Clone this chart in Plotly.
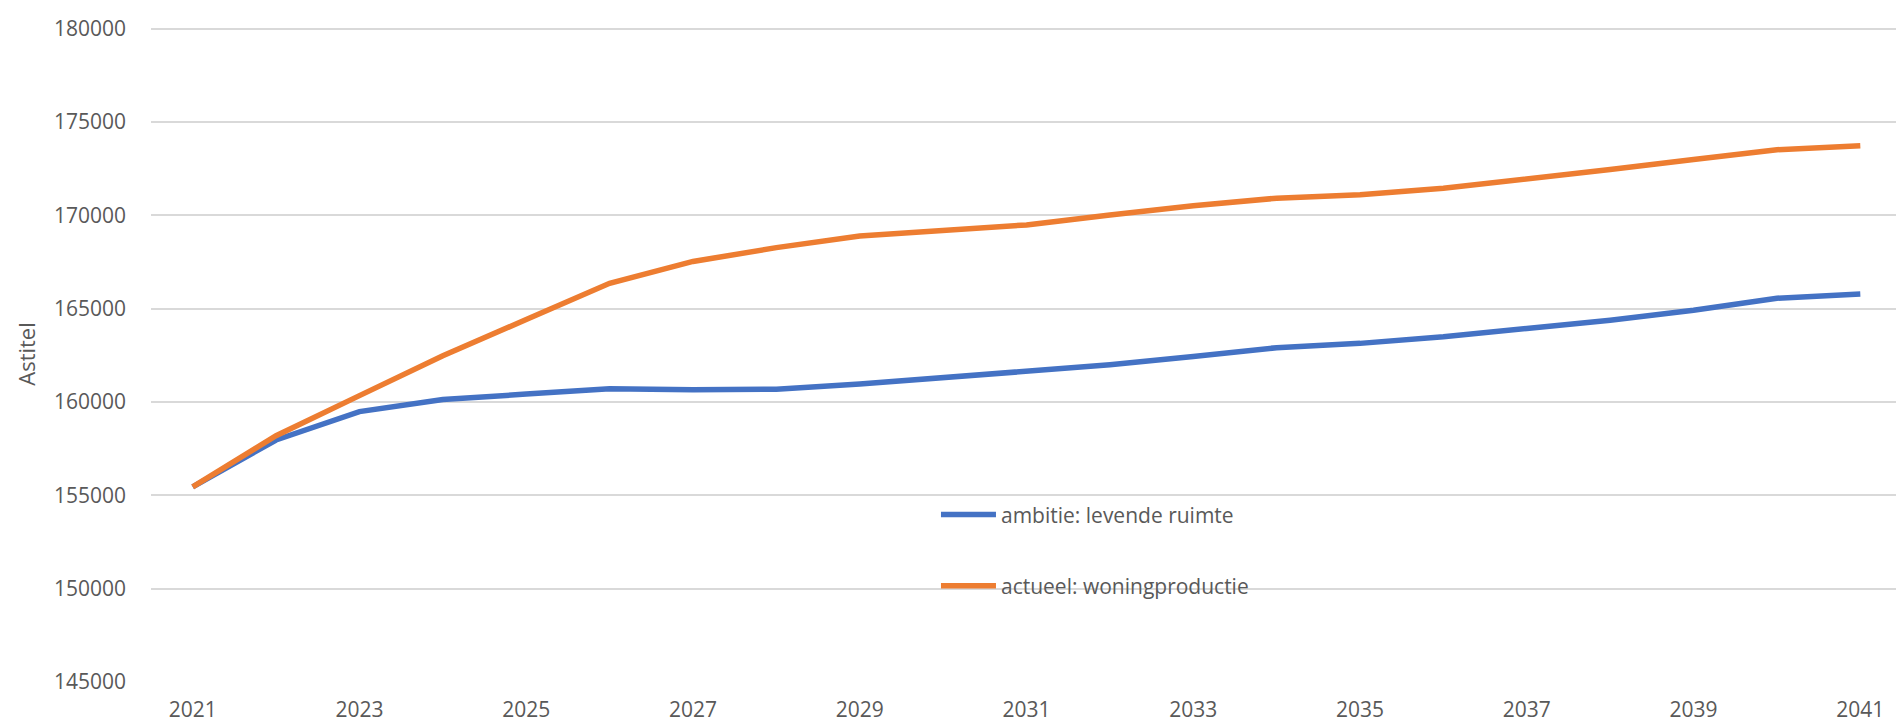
import plotly.graph_objects as go

years = list(range(2021, 2042))
ambitie = [155450, 157960, 159480, 160130, 160420, 160710, 160650, 160680, 160960, 161280,
           161630, 161990, 162430, 162910, 163140, 163490, 163940, 164380, 164910, 165560, 165780]
actueel = [155450, 158190, 160340, 162480, 164420, 166360, 167530, 168270, 168890, 169210,
           169490, 170020, 170520, 170920, 171100, 171450, 171930, 172460, 172990, 173520, 173730]
series_names = ["ambitie: levende ruimte", "actueel: woningproductie"]
colors = ["#4472C4", "#ED7D31"]
y_ticks = [145000, 150000, 155000, 160000, 165000, 170000, 175000, 180000]

FONT = "Open Sans"
GREY = "#595959"
FS = 21

fig = go.Figure()
for i, (name, vals) in enumerate(zip(series_names, [ambitie, actueel])):
    fig.add_trace(go.Scatter(
        x=years, y=vals, mode="lines", name=name, legendgroup=f"g{i}",
        line=dict(color=colors[i], width=5.5, shape="linear"),
    ))

fig.update_layout(
    width=1904, height=725,
    margin=dict(l=143, r=10, t=18, b=45),
    paper_bgcolor="white", plot_bgcolor="white",
    font=dict(family=FONT, size=FS, color=GREY),
    showlegend=True,
    legend=dict(
        x=0.4483, y=0.286, xanchor="left", yanchor="top",
        traceorder="grouped", tracegroupgap=41, itemwidth=55,
        font=dict(family=FONT, size=FS, color=GREY),
        bgcolor="rgba(0,0,0,0)",
    ),
)
fig.update_xaxes(
    range=[2020.5, 2041.5], tickmode="array",
    tickvals=years[::2], ticktext=[str(y) for y in years[::2]],
    showgrid=False, zeroline=False, showline=False,
    ticks="", ticklabelstandoff=13,
    tickfont=dict(family=FONT, size=FS, color=GREY),
)
fig.update_yaxes(
    range=[144990, 180150], tickmode="array", tickvals=y_ticks,
    ticktext=[str(v) for v in y_ticks],
    showgrid=True, gridcolor="#D9D9D9", gridwidth=1.5,
    zeroline=False, showline=False, ticks="", ticklabelstandoff=24,
    tickfont=dict(family=FONT, size=FS, color=GREY),
    title=dict(text="Astitel", font=dict(family=FONT, size=22, color=GREY), standoff=12),
    automargin=False,
)
fig.write_html("out.html")
